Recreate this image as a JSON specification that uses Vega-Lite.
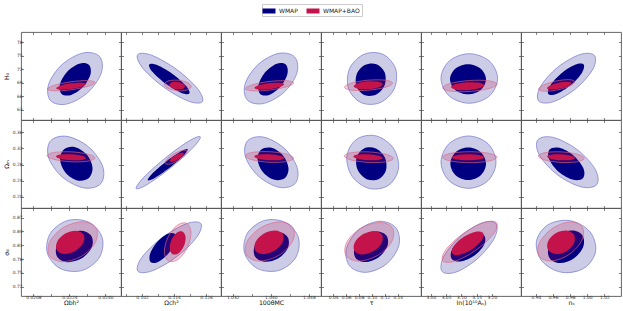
{
"$schema":"https://vega.github.io/schema/vega-lite/v6.json",
"padding":{"left":3,"top":3,"right":3,"bottom":1},
"background":"white",
"data":{"values":[
{"p":"11","k":"a","s":"WMAP","l":"95","x":[0.023736,0.023816,0.023212,0.022277,0.021559,0.021479,0.022083,0.023018],"y":[74.87,71.22,66.83,64.28,65.06,68.72,73.11,75.65],"i":[0,1,2,3,4,5,6,7]},
{"p":"11","k":"b","s":"WMAP","l":"68","x":[0.023262,0.023337,0.023014,0.022481,0.022051,0.021976,0.022299,0.022832],"y":[73.04,70.91,68.12,66.31,66.54,68.67,71.46,73.27],"i":[0,1,2,3,4,5,6,7]},
{"p":"11","k":"c","s":"WMAP+BAO","l":"95","x":[0.023534,0.023243,0.022504,0.02175,0.021423,0.021715,0.022454,0.023207],"y":[69.09,68.25,67.47,67.2,67.6,68.44,69.23,69.49],"i":[0,1,2,3,4,5,6,7]},
{"p":"11","k":"d","s":"WMAP+BAO","l":"68","x":[0.023129,0.022949,0.022488,0.022016,0.021811,0.021991,0.022452,0.022924],"y":[68.72,68.13,67.62,67.48,67.79,68.38,68.89,69.04],"i":[0,1,2,3,4,5,6,7]},
{"p":"12","k":"a","s":"WMAP","l":"95","x":[0.12461,0.11934,0.11005,0.10218,0.10034,0.10561,0.1149,0.12277],"y":[64.81,64.94,68.06,72.33,75.26,75.13,72.01,67.74],"i":[0,1,2,3,4,5,6,7]},
{"p":"12","k":"b","s":"WMAP","l":"68","x":[0.11974,0.1166,0.11089,0.10596,0.10469,0.10783,0.11354,0.11847],"y":[66.62,66.8,68.78,71.39,73.1,72.91,70.93,68.33],"i":[0,1,2,3,4,5,6,7]},
{"p":"12","k":"c","s":"WMAP+BAO","l":"95","x":[0.12041,0.1188,0.11519,0.11168,0.11032,0.11192,0.11554,0.11905],"y":[68.15,67.4,67.24,67.77,68.67,69.43,69.59,69.06],"i":[0,1,2,3,4,5,6,7]},
{"p":"12","k":"d","s":"WMAP+BAO","l":"68","x":[0.11807,0.11708,0.11498,0.11299,0.11228,0.11327,0.11537,0.11736],"y":[68.13,67.61,67.53,67.95,68.61,69.13,69.2,68.79],"i":[0,1,2,3,4,5,6,7]},
{"p":"13","k":"a","s":"WMAP","l":"95","x":[1.04503,1.04546,1.04271,1.0384,1.03505,1.03462,1.03737,1.04168],"y":[74.72,71.11,66.83,64.39,65.21,68.82,73.11,75.55],"i":[0,1,2,3,4,5,6,7]},
{"p":"13","k":"b","s":"WMAP","l":"68","x":[1.04309,1.04351,1.04215,1.03979,1.03783,1.03741,1.03877,1.04113],"y":[73.11,71.08,68.29,66.38,66.47,68.5,71.29,73.2],"i":[0,1,2,3,4,5,6,7]},
{"p":"13","k":"c","s":"WMAP+BAO","l":"95","x":[1.04479,1.04338,1.03983,1.03622,1.03466,1.03607,1.03962,1.04323],"y":[69.0,68.14,67.4,67.21,67.69,68.55,69.29,69.48],"i":[0,1,2,3,4,5,6,7]},
{"p":"13","k":"d","s":"WMAP+BAO","l":"68","x":[1.04281,1.04195,1.03976,1.03753,1.03656,1.03742,1.03961,1.04184],"y":[68.66,68.08,67.59,67.5,67.85,68.44,68.92,69.01],"i":[0,1,2,3,4,5,6,7]},
{"p":"14","k":"a","s":"WMAP","l":"95","x":[0.11741,0.13665,0.13446,0.11211,0.08269,0.06345,0.06564,0.08799],"y":[75.31,72.11,67.67,64.57,64.63,67.82,72.27,75.37],"i":[0,1,2,3,4,5,6,7]},
{"p":"14","k":"b","s":"WMAP","l":"68","x":[0.10678,0.11967,0.11989,0.1073,0.08929,0.0764,0.07618,0.08877],"y":[73.15,71.33,68.56,66.46,66.25,68.07,70.84,72.94],"i":[0,1,2,3,4,5,6,7]},
{"p":"14","k":"c","s":"WMAP+BAO","l":"95","x":[0.132,0.12153,0.09531,0.06869,0.05725,0.06772,0.09394,0.12056],"y":[68.95,68.03,67.37,67.37,68.01,68.93,69.59,69.59],"i":[0,1,2,3,4,5,6,7]},
{"p":"14","k":"d","s":"WMAP+BAO","l":"68","x":[0.11659,0.11033,0.09459,0.07861,0.07173,0.07799,0.09373,0.10971],"y":[68.68,67.99,67.57,67.67,68.23,68.93,69.34,69.24],"i":[0,1,2,3,4,5,6,7]},
{"p":"15","k":"a","s":"WMAP","l":"95","x":[3.2185,3.1914,3.1259,3.0605,3.0334,3.0605,3.1259,3.1914],"y":[69.97,66.07,64.46,66.07,69.97,73.86,75.48,73.86],"i":[0,1,2,3,4,5,6,7]},
{"p":"15","k":"b","s":"WMAP","l":"68","x":[3.1806,3.1633,3.1217,3.0801,3.0628,3.0801,3.1217,3.1633],"y":[69.79,67.43,66.46,67.43,69.79,72.15,73.12,72.15],"i":[0,1,2,3,4,5,6,7]},
{"p":"15","k":"c","s":"WMAP+BAO","l":"95","x":[3.2163,3.1912,3.1288,3.0657,3.0389,3.064,3.1263,3.1894],"y":[68.72,67.74,67.08,67.14,67.88,68.87,69.52,69.46],"i":[0,1,2,3,4,5,6,7]},
{"p":"15","k":"d","s":"WMAP+BAO","l":"68","x":[3.1753,3.1598,3.1214,3.0827,3.0662,3.0817,3.12,3.1588],"y":[68.45,67.77,67.37,67.49,68.06,68.75,69.14,69.02],"i":[0,1,2,3,4,5,6,7]},
{"p":"16","k":"a","s":"WMAP","l":"95","x":[1.00847,1.00617,0.98604,0.95988,0.943,0.9453,0.96543,0.99159],"y":[75.07,71.88,67.62,64.77,65.0,68.19,72.45,75.3],"i":[0,1,2,3,4,5,6,7]},
{"p":"16","k":"b","s":"WMAP","l":"68","x":[0.99577,0.99372,0.98079,0.96456,0.95453,0.95658,0.96951,0.98574],"y":[73.07,71.21,68.51,66.57,66.51,68.37,71.07,73.01],"i":[0,1,2,3,4,5,6,7]},
{"p":"16","k":"c","s":"WMAP+BAO","l":"95","x":[0.98543,0.98001,0.96537,0.95008,0.9431,0.94853,0.96317,0.97846],"y":[69.27,68.33,67.43,67.12,67.56,68.5,69.39,69.71],"i":[0,1,2,3,4,5,6,7]},
{"p":"16","k":"d","s":"WMAP+BAO","l":"68","x":[0.98162,0.97793,0.96804,0.9577,0.953,0.95669,0.96659,0.97692],"y":[68.95,68.32,67.72,67.5,67.79,68.42,69.02,69.24],"i":[0,1,2,3,4,5,6,7]},
{"p":"21","k":"a","s":"WMAP","l":"95","x":[0.023801,0.023069,0.022108,0.021482,0.021556,0.022289,0.02325,0.023876],"y":[0.2334,0.222,0.2479,0.296,0.3382,0.3496,0.3236,0.2755],"i":[0,1,2,3,4,5,6,7]},
{"p":"21","k":"b","s":"WMAP","l":"68","x":[0.023247,0.022752,0.022229,0.021986,0.022163,0.022659,0.023181,0.023425],"y":[0.2459,0.2407,0.2596,0.2915,0.3178,0.3229,0.304,0.2721],"i":[0,1,2,3,4,5,6,7]},
{"p":"21","k":"c","s":"WMAP+BAO","l":"95","x":[0.023534,0.023214,0.022458,0.021709,0.021406,0.021726,0.022482,0.023231],"y":[0.296,0.2882,0.2868,0.2926,0.3022,0.31,0.3114,0.3056],"i":[0,1,2,3,4,5,6,7]},
{"p":"21","k":"d","s":"WMAP+BAO","l":"68","x":[0.023135,0.022935,0.022463,0.021995,0.021805,0.022005,0.022477,0.022945],"y":[0.2959,0.2913,0.2905,0.294,0.2998,0.3045,0.3053,0.3018],"i":[0,1,2,3,4,5,6,7]},
{"p":"22","k":"a","s":"WMAP","l":"95","x":[0.12381,0.12121,0.1131,0.10423,0.09979,0.1024,0.1105,0.11937],"y":[0.3486,0.3224,0.274,0.2318,0.2205,0.2467,0.2951,0.3373],"i":[0,1,2,3,4,5,6,7]},
{"p":"22","k":"b","s":"WMAP","l":"68","x":[0.11909,0.11747,0.11242,0.1069,0.10414,0.10576,0.11081,0.11633],"y":[0.3178,0.3017,0.2725,0.2473,0.2409,0.257,0.2862,0.3114],"i":[0,1,2,3,4,5,6,7]},
{"p":"22","k":"c","s":"WMAP+BAO","l":"95","x":[0.11879,0.11813,0.11548,0.11239,0.11066,0.11132,0.11398,0.11707],"y":[0.3136,0.303,0.2896,0.2812,0.2827,0.2933,0.3067,0.3151],"i":[0,1,2,3,4,5,6,7]},
{"p":"22","k":"d","s":"WMAP+BAO","l":"68","x":[0.11762,0.11719,0.11549,0.11352,0.11243,0.11286,0.11456,0.11653],"y":[0.3078,0.3011,0.2925,0.2871,0.288,0.2947,0.3032,0.3086],"i":[0,1,2,3,4,5,6,7]},
{"p":"23","k":"a","s":"WMAP","l":"95","x":[1.0451,1.04175,1.03743,1.03469,1.03511,1.03846,1.04277,1.04552],"y":[0.2329,0.2237,0.2509,0.2985,0.3386,0.3478,0.3206,0.273],"i":[0,1,2,3,4,5,6,7]},
{"p":"23","k":"b","s":"WMAP","l":"68","x":[1.04296,1.04075,1.03837,1.03722,1.03796,1.04017,1.04255,1.04371],"y":[0.2468,0.2425,0.2612,0.292,0.3168,0.3212,0.3025,0.2717],"i":[0,1,2,3,4,5,6,7]},
{"p":"23","k":"c","s":"WMAP+BAO","l":"95","x":[1.0448,1.04327,1.03967,1.03609,1.03465,1.03618,1.03978,1.04336],"y":[0.2955,0.2872,0.2855,0.2916,0.3018,0.3101,0.3117,0.3056],"i":[0,1,2,3,4,5,6,7]},
{"p":"23","k":"d","s":"WMAP+BAO","l":"68","x":[1.04283,1.04188,1.03965,1.03744,1.03654,1.03748,1.03972,1.04193],"y":[0.2959,0.2913,0.2905,0.294,0.2998,0.3045,0.3053,0.3018],"i":[0,1,2,3,4,5,6,7]},
{"p":"24","k":"a","s":"WMAP","l":"95","x":[0.12603,0.0963,0.06939,0.0611,0.07624,0.10597,0.13288,0.14117],"y":[0.2291,0.2207,0.2503,0.3008,0.3424,0.3509,0.3212,0.2708],"i":[0,1,2,3,4,5,6,7]},
{"p":"24","k":"b","s":"WMAP","l":"68","x":[0.11009,0.09194,0.0779,0.07621,0.08784,0.10599,0.12003,0.12172],"y":[0.2438,0.2438,0.2662,0.2977,0.3199,0.3198,0.2975,0.266],"i":[0,1,2,3,4,5,6,7]},
{"p":"24","k":"c","s":"WMAP+BAO","l":"95","x":[0.13302,0.1216,0.09466,0.06797,0.05716,0.06859,0.09552,0.12222],"y":[0.295,0.2866,0.2851,0.2911,0.3013,0.3096,0.3112,0.3051],"i":[0,1,2,3,4,5,6,7]},
{"p":"24","k":"d","s":"WMAP+BAO","l":"68","x":[0.1166,0.10977,0.0936,0.07759,0.0711,0.07793,0.0941,0.11011],"y":[0.296,0.2913,0.2905,0.294,0.2998,0.3045,0.3053,0.3018],"i":[0,1,2,3,4,5,6,7]},
{"p":"25","k":"a","s":"WMAP","l":"95","x":[3.2133,3.1869,3.1233,3.0598,3.0334,3.0598,3.1233,3.1869],"y":[0.2858,0.24,0.2211,0.24,0.2858,0.3315,0.3505,0.3315],"i":[0,1,2,3,4,5,6,7]},
{"p":"25","k":"b","s":"WMAP","l":"68","x":[3.1806,3.1635,3.1223,3.0812,3.0641,3.0812,3.1223,3.1635],"y":[0.2818,0.2535,0.2418,0.2535,0.2818,0.3101,0.3218,0.3101],"i":[0,1,2,3,4,5,6,7]},
{"p":"25","k":"c","s":"WMAP+BAO","l":"95","x":[3.2165,3.1905,3.1276,3.0647,3.0386,3.0647,3.1276,3.1905],"y":[0.2981,0.2885,0.2845,0.2885,0.2981,0.3077,0.3117,0.3077],"i":[0,1,2,3,4,5,6,7]},
{"p":"25","k":"d","s":"WMAP+BAO","l":"68","x":[3.175,3.1594,3.1217,3.084,3.0684,3.084,3.1217,3.1594],"y":[0.2979,0.2926,0.2905,0.2926,0.2979,0.3031,0.3053,0.3031],"i":[0,1,2,3,4,5,6,7]},
{"p":"26","k":"a","s":"WMAP","l":"95","x":[1.01124,0.99314,0.9654,0.94426,0.9421,0.9602,0.98794,1.00908],"y":[0.2308,0.2246,0.2542,0.3023,0.3408,0.347,0.3173,0.2692],"i":[0,1,2,3,4,5,6,7]},
{"p":"26","k":"b","s":"WMAP","l":"68","x":[0.99522,0.98359,0.96723,0.95572,0.95579,0.96742,0.98377,0.99529],"y":[0.2469,0.2424,0.261,0.2918,0.3167,0.3212,0.3026,0.2718],"i":[0,1,2,3,4,5,6,7]},
{"p":"26","k":"c","s":"WMAP+BAO","l":"95","x":[0.99653,0.98842,0.96932,0.95042,0.94278,0.95088,0.96998,0.98889],"y":[0.2952,0.2868,0.2851,0.291,0.3011,0.3095,0.3112,0.3053],"i":[0,1,2,3,4,5,6,7]},
{"p":"26","k":"d","s":"WMAP+BAO","l":"68","x":[0.98566,0.98073,0.96911,0.9576,0.95294,0.95787,0.96949,0.981],"y":[0.2961,0.2914,0.2905,0.2939,0.2997,0.3044,0.3053,0.3018],"i":[0,1,2,3,4,5,6,7]},
{"p":"31","k":"a","s":"WMAP","l":"95","x":[0.023861,0.023714,0.022938,0.021986,0.021416,0.021563,0.02234,0.023292],"y":[0.8256,0.7824,0.7551,0.7598,0.7936,0.8368,0.8641,0.8595],"i":[0,1,2,3,4,5,6,7]},
{"p":"31","k":"b","s":"WMAP","l":"68","x":[0.023386,0.02338,0.022927,0.022292,0.021848,0.021853,0.022306,0.022941],"y":[0.8292,0.8042,0.7812,0.7735,0.7858,0.8107,0.8338,0.8414],"i":[0,1,2,3,4,5,6,7]},
{"p":"31","k":"c","s":"WMAP+BAO","l":"95","x":[0.023584,0.023546,0.022923,0.022078,0.021507,0.021545,0.022168,0.023013],"y":[0.847,0.8158,0.7857,0.7744,0.7884,0.8195,0.8496,0.861],"i":[0,1,2,3,4,5,6,7]},
{"p":"31","k":"d","s":"WMAP+BAO","l":"68","x":[0.02303,0.023013,0.022656,0.02217,0.021839,0.021856,0.022212,0.022699],"y":[0.8334,0.8152,0.7978,0.7914,0.7998,0.818,0.8354,0.8417],"i":[0,1,2,3,4,5,6,7]},
{"p":"32","k":"a","s":"WMAP","l":"95","x":[0.12404,0.12249,0.11492,0.10577,0.10039,0.10194,0.10951,0.11866],"y":[0.8573,0.8275,0.7849,0.7546,0.7541,0.784,0.8265,0.8569],"i":[0,1,2,3,4,5,6,7]},
{"p":"32","k":"b","s":"WMAP","l":"68","x":[0.1142,0.11452,0.11204,0.10821,0.10528,0.10496,0.10744,0.11126],"y":[0.835,0.818,0.7931,0.7746,0.7735,0.7904,0.8154,0.8338],"i":[0,1,2,3,4,5,6,7]},
{"p":"32","k":"c","s":"WMAP+BAO","l":"95","x":[0.11869,0.12036,0.1191,0.11566,0.11204,0.11037,0.11162,0.11507],"y":[0.8579,0.8386,0.8065,0.7802,0.7753,0.7945,0.8267,0.8529],"i":[0,1,2,3,4,5,6,7]},
{"p":"32","k":"d","s":"WMAP+BAO","l":"68","x":[0.11709,0.11831,0.1178,0.11586,0.11363,0.11242,0.11293,0.11486],"y":[0.8398,0.8285,0.8094,0.7936,0.7903,0.8016,0.8207,0.8366],"i":[0,1,2,3,4,5,6,7]},
{"p":"33","k":"a","s":"WMAP","l":"95","x":[1.04583,1.04516,1.04156,1.03713,1.03447,1.03513,1.03873,1.04316],"y":[0.8254,0.7822,0.7551,0.76,0.7939,0.837,0.8641,0.8593],"i":[0,1,2,3,4,5,6,7]},
{"p":"33","k":"b","s":"WMAP","l":"68","x":[1.04356,1.04355,1.04152,1.03866,1.03665,1.03666,1.03869,1.04154],"y":[0.8274,0.8034,0.7814,0.7743,0.7862,0.8102,0.8322,0.8393],"i":[0,1,2,3,4,5,6,7]},
{"p":"33","k":"c","s":"WMAP+BAO","l":"95","x":[1.0447,1.04448,1.04152,1.03754,1.03488,1.03509,1.03806,1.04204],"y":[0.8476,0.8171,0.7873,0.7757,0.789,0.8195,0.8493,0.861],"i":[0,1,2,3,4,5,6,7]},
{"p":"33","k":"d","s":"WMAP+BAO","l":"68","x":[1.04253,1.04242,1.04067,1.03831,1.03671,1.03682,1.03857,1.04094],"y":[0.8339,0.8156,0.7978,0.791,0.7992,0.8176,0.8354,0.8421],"i":[0,1,2,3,4,5,6,7]},
{"p":"34","k":"a","s":"WMAP","l":"95","x":[0.13675,0.14181,0.12305,0.09145,0.06552,0.06046,0.07922,0.11082],"y":[0.8486,0.8105,0.7702,0.7514,0.765,0.8031,0.8434,0.8622],"i":[0,1,2,3,4,5,6,7]},
{"p":"34","k":"b","s":"WMAP","l":"68","x":[0.12262,0.12372,0.11006,0.08962,0.07438,0.07328,0.08694,0.10738],"y":[0.8305,0.8072,0.7837,0.7737,0.7832,0.8064,0.8299,0.8399],"i":[0,1,2,3,4,5,6,7]},
{"p":"34","k":"c","s":"WMAP+BAO","l":"95","x":[0.1321,0.13026,0.10827,0.07902,0.05963,0.06147,0.08347,0.11271],"y":[0.847,0.8171,0.7876,0.7757,0.7884,0.8182,0.8477,0.8596],"i":[0,1,2,3,4,5,6,7]},
{"p":"34","k":"d","s":"WMAP+BAO","l":"68","x":[0.11564,0.11482,0.10191,0.08446,0.07268,0.0735,0.08641,0.10386],"y":[0.8331,0.8147,0.7969,0.7901,0.7983,0.8167,0.8345,0.8413],"i":[0,1,2,3,4,5,6,7]},
{"p":"35","k":"a","s":"WMAP","l":"95","x":[3.2124,3.2085,3.1556,3.0848,3.0375,3.0414,3.0943,3.1652],"y":[0.8576,0.8263,0.7827,0.7524,0.753,0.7843,0.8279,0.8582],"i":[0,1,2,3,4,5,6,7]},
{"p":"35","k":"b","s":"WMAP","l":"68","x":[3.1753,3.1735,3.1414,3.0978,3.0681,3.0699,3.102,3.1456],"y":[0.8306,0.8101,0.7871,0.7749,0.7808,0.8013,0.8244,0.8365],"i":[0,1,2,3,4,5,6,7]},
{"p":"35","k":"c","s":"WMAP+BAO","l":"95","x":[3.2156,3.2037,3.1469,3.0787,3.0389,3.0508,3.1076,3.1758],"y":[0.8587,0.8335,0.799,0.7754,0.7766,0.8018,0.8363,0.8599],"i":[0,1,2,3,4,5,6,7]},
{"p":"35","k":"d","s":"WMAP+BAO","l":"68","x":[3.1715,3.166,3.1341,3.0943,3.07,3.0754,3.1074,3.1472],"y":[0.8363,0.8202,0.8008,0.7893,0.7925,0.8086,0.8281,0.8395],"i":[0,1,2,3,4,5,6,7]},
{"p":"36","k":"a","s":"WMAP","l":"95","x":[1.00971,0.99582,0.96983,0.94695,0.94059,0.95448,0.98047,1.00335],"y":[0.7962,0.7599,0.7515,0.7759,0.8188,0.855,0.8634,0.839],"i":[0,1,2,3,4,5,6,7]},
{"p":"36","k":"b","s":"WMAP","l":"68","x":[0.99431,0.99534,0.98455,0.96825,0.95599,0.95496,0.96575,0.98205],"y":[0.8317,0.8068,0.7819,0.7716,0.7819,0.8068,0.8317,0.842],"i":[0,1,2,3,4,5,6,7]},
{"p":"36","k":"c","s":"WMAP+BAO","l":"95","x":[0.99387,0.99392,0.97935,0.95869,0.94403,0.94398,0.95855,0.97921],"y":[0.8507,0.8217,0.7908,0.776,0.786,0.8149,0.8459,0.8607],"i":[0,1,2,3,4,5,6,7]},
{"p":"36","k":"d","s":"WMAP+BAO","l":"68","x":[0.9845,0.98439,0.97544,0.9629,0.9541,0.95421,0.96316,0.9757],"y":[0.8328,0.8141,0.7968,0.7911,0.8003,0.819,0.8363,0.842],"i":[0,1,2,3,4,5,6,7]}
]},
"transform":[{"flatten":["x","y","i"]}],
"columns":6,
"spacing":0,
"bounds":"flush",
"concat":[
{"width":100,"height":88,"transform":[{"filter":"datum.p=='11'"}],"resolve":{"axis":{"x":"independent","y":"independent"}},"layer":[
 {"mark":{"type":"line","interpolate":"cardinal-closed","strokeWidth":0.7},"encoding":{
  "x":{"field":"x","type":"quantitative","scale":{"domain":[0.02025,0.02469],"nice":false,"zero":false},"axis":{"values":[0.0208,0.0216,0.0224,0.0232,0.024],"labels":false,"title":null}},
  "y":{"field":"y","type":"quantitative","scale":{"domain":[60.74,80.3],"nice":false,"zero":false},"axis":{"values":[63,66,69,72,75,78],"format":"d","title":"H₀","minExtent":10,"maxExtent":10}},
  "order":{"field":"i","type":"quantitative"},"detail":{"field":"k","type":"nominal"},
  "fill":{"field":"s","type":"nominal","scale":{"domain":["WMAP","WMAP+BAO"],"range":["#000080","#c4134b"]},"legend":{"orient":"none","legendX":241,"legendY":-28,"direction":"horizontal","title":null,"symbolType":"M-1.3,-0.5H1.3V0.5H-1.3Z","symbolSize":100,"labelFontSize":6,"labelFont":"DejaVu Sans","labelColor":"#222","strokeColor":"#cccccc","padding":2,"columnPadding":8,"labelOffset":5,"encode":{"symbols":{"update":{"fill":{"signal":"datum.value=='WMAP'?'#000080':'#dc143c'"},"fillOpacity":{"value":1},"opacity":{"value":1},"strokeWidth":{"value":0}}}}}},
  "fillOpacity":{"field":"l","type":"ordinal","scale":{"domain":["95","68"],"range":[0.2,1]},"legend":null},
  "stroke":{"field":"s","type":"nominal","scale":{"domain":["WMAP","WMAP+BAO"],"range":["#6767c9","#e06586"]},"legend":null},
  "strokeOpacity":{"field":"l","type":"ordinal","scale":{"domain":["95","68"],"range":[0.9,0]},"legend":null}}},
 {"mark":{"type":"line","opacity":0},"encoding":{
  "x":{"field":"x","type":"quantitative","axis":{"orient":"top","values":[0.0208,0.0216,0.0224,0.0232,0.024],"labels":false,"title":null}},
  "y":{"field":"y","type":"quantitative","axis":{"orient":"right","values":[63,66,69,72,75,78],"labels":false,"title":null}}}}]},
{"width":100,"height":88,"transform":[{"filter":"datum.p=='12'"}],"resolve":{"axis":{"x":"independent","y":"independent"}},"layer":[
 {"mark":{"type":"line","interpolate":"cardinal-closed","strokeWidth":0.7},"encoding":{
  "x":{"field":"x","type":"quantitative","scale":{"domain":[0.0941,0.1316],"nice":false,"zero":false},"axis":{"values":[0.096,0.102,0.108,0.114,0.12,0.126],"labels":false,"title":null}},
  "y":{"field":"y","type":"quantitative","scale":{"domain":[60.74,80.3],"nice":false,"zero":false},"axis":{"values":[63,66,69,72,75,78],"labels":false,"title":null}},
  "order":{"field":"i","type":"quantitative"},"detail":{"field":"k","type":"nominal"},
  "fill":{"field":"s","type":"nominal","scale":{"domain":["WMAP","WMAP+BAO"],"range":["#000080","#c4134b"]},"legend":{"orient":"none","legendX":241,"legendY":-28,"direction":"horizontal","title":null,"symbolType":"M-1.3,-0.5H1.3V0.5H-1.3Z","symbolSize":100,"labelFontSize":6,"labelFont":"DejaVu Sans","labelColor":"#222","strokeColor":"#cccccc","padding":2,"columnPadding":8,"labelOffset":5,"encode":{"symbols":{"update":{"fill":{"signal":"datum.value=='WMAP'?'#000080':'#dc143c'"},"fillOpacity":{"value":1},"opacity":{"value":1},"strokeWidth":{"value":0}}}}}},
  "fillOpacity":{"field":"l","type":"ordinal","scale":{"domain":["95","68"],"range":[0.2,1]},"legend":null},
  "stroke":{"field":"s","type":"nominal","scale":{"domain":["WMAP","WMAP+BAO"],"range":["#6767c9","#e06586"]},"legend":null},
  "strokeOpacity":{"field":"l","type":"ordinal","scale":{"domain":["95","68"],"range":[0.9,0]},"legend":null}}},
 {"mark":{"type":"line","opacity":0},"encoding":{
  "x":{"field":"x","type":"quantitative","axis":{"orient":"top","values":[0.096,0.102,0.108,0.114,0.12,0.126],"labels":false,"title":null}},
  "y":{"field":"y","type":"quantitative","axis":{"orient":"right","values":[63,66,69,72,75,78],"labels":false,"title":null}}}}]},
{"width":100,"height":88,"transform":[{"filter":"datum.p=='13'"}],"resolve":{"axis":{"x":"independent","y":"independent"}},"layer":[
 {"mark":{"type":"line","interpolate":"cardinal-closed","strokeWidth":0.7},"encoding":{
  "x":{"field":"x","type":"quantitative","scale":{"domain":[1.02954,1.05054],"nice":false,"zero":false},"axis":{"values":[1.032,1.036,1.04,1.044,1.048],"labels":false,"title":null}},
  "y":{"field":"y","type":"quantitative","scale":{"domain":[60.74,80.3],"nice":false,"zero":false},"axis":{"values":[63,66,69,72,75,78],"labels":false,"title":null}},
  "order":{"field":"i","type":"quantitative"},"detail":{"field":"k","type":"nominal"},
  "fill":{"field":"s","type":"nominal","scale":{"domain":["WMAP","WMAP+BAO"],"range":["#000080","#c4134b"]},"legend":{"orient":"none","legendX":241,"legendY":-28,"direction":"horizontal","title":null,"symbolType":"M-1.3,-0.5H1.3V0.5H-1.3Z","symbolSize":100,"labelFontSize":6,"labelFont":"DejaVu Sans","labelColor":"#222","strokeColor":"#cccccc","padding":2,"columnPadding":8,"labelOffset":5,"encode":{"symbols":{"update":{"fill":{"signal":"datum.value=='WMAP'?'#000080':'#dc143c'"},"fillOpacity":{"value":1},"opacity":{"value":1},"strokeWidth":{"value":0}}}}}},
  "fillOpacity":{"field":"l","type":"ordinal","scale":{"domain":["95","68"],"range":[0.2,1]},"legend":null},
  "stroke":{"field":"s","type":"nominal","scale":{"domain":["WMAP","WMAP+BAO"],"range":["#6767c9","#e06586"]},"legend":null},
  "strokeOpacity":{"field":"l","type":"ordinal","scale":{"domain":["95","68"],"range":[0.9,0]},"legend":null}}},
 {"mark":{"type":"line","opacity":0},"encoding":{
  "x":{"field":"x","type":"quantitative","axis":{"orient":"top","values":[1.032,1.036,1.04,1.044,1.048],"labels":false,"title":null}},
  "y":{"field":"y","type":"quantitative","axis":{"orient":"right","values":[63,66,69,72,75,78],"labels":false,"title":null}}}}]},
{"width":100,"height":88,"transform":[{"filter":"datum.p=='14'"}],"resolve":{"axis":{"x":"independent","y":"independent"}},"layer":[
 {"mark":{"type":"line","interpolate":"cardinal-closed","strokeWidth":0.7},"encoding":{
  "x":{"field":"x","type":"quantitative","scale":{"domain":[0.021,0.176],"nice":false,"zero":false},"axis":{"values":[0.04,0.06,0.08,0.1,0.12,0.14],"labels":false,"title":null}},
  "y":{"field":"y","type":"quantitative","scale":{"domain":[60.74,80.3],"nice":false,"zero":false},"axis":{"values":[63,66,69,72,75,78],"labels":false,"title":null}},
  "order":{"field":"i","type":"quantitative"},"detail":{"field":"k","type":"nominal"},
  "fill":{"field":"s","type":"nominal","scale":{"domain":["WMAP","WMAP+BAO"],"range":["#000080","#c4134b"]},"legend":{"orient":"none","legendX":241,"legendY":-28,"direction":"horizontal","title":null,"symbolType":"M-1.3,-0.5H1.3V0.5H-1.3Z","symbolSize":100,"labelFontSize":6,"labelFont":"DejaVu Sans","labelColor":"#222","strokeColor":"#cccccc","padding":2,"columnPadding":8,"labelOffset":5,"encode":{"symbols":{"update":{"fill":{"signal":"datum.value=='WMAP'?'#000080':'#dc143c'"},"fillOpacity":{"value":1},"opacity":{"value":1},"strokeWidth":{"value":0}}}}}},
  "fillOpacity":{"field":"l","type":"ordinal","scale":{"domain":["95","68"],"range":[0.2,1]},"legend":null},
  "stroke":{"field":"s","type":"nominal","scale":{"domain":["WMAP","WMAP+BAO"],"range":["#6767c9","#e06586"]},"legend":null},
  "strokeOpacity":{"field":"l","type":"ordinal","scale":{"domain":["95","68"],"range":[0.9,0]},"legend":null}}},
 {"mark":{"type":"line","opacity":0},"encoding":{
  "x":{"field":"x","type":"quantitative","axis":{"orient":"top","values":[0.04,0.06,0.08,0.1,0.12,0.14],"labels":false,"title":null}},
  "y":{"field":"y","type":"quantitative","axis":{"orient":"right","values":[63,66,69,72,75,78],"labels":false,"title":null}}}}]},
{"width":100,"height":88,"transform":[{"filter":"datum.p=='15'"}],"resolve":{"axis":{"x":"independent","y":"independent"}},"layer":[
 {"mark":{"type":"line","interpolate":"cardinal-closed","strokeWidth":0.7},"encoding":{
  "x":{"field":"x","type":"quantitative","scale":{"domain":[2.968,3.295],"nice":false,"zero":false},"axis":{"values":[3,3.05,3.1,3.15,3.2],"labels":false,"title":null}},
  "y":{"field":"y","type":"quantitative","scale":{"domain":[60.74,80.3],"nice":false,"zero":false},"axis":{"values":[63,66,69,72,75,78],"labels":false,"title":null}},
  "order":{"field":"i","type":"quantitative"},"detail":{"field":"k","type":"nominal"},
  "fill":{"field":"s","type":"nominal","scale":{"domain":["WMAP","WMAP+BAO"],"range":["#000080","#c4134b"]},"legend":{"orient":"none","legendX":241,"legendY":-28,"direction":"horizontal","title":null,"symbolType":"M-1.3,-0.5H1.3V0.5H-1.3Z","symbolSize":100,"labelFontSize":6,"labelFont":"DejaVu Sans","labelColor":"#222","strokeColor":"#cccccc","padding":2,"columnPadding":8,"labelOffset":5,"encode":{"symbols":{"update":{"fill":{"signal":"datum.value=='WMAP'?'#000080':'#dc143c'"},"fillOpacity":{"value":1},"opacity":{"value":1},"strokeWidth":{"value":0}}}}}},
  "fillOpacity":{"field":"l","type":"ordinal","scale":{"domain":["95","68"],"range":[0.2,1]},"legend":null},
  "stroke":{"field":"s","type":"nominal","scale":{"domain":["WMAP","WMAP+BAO"],"range":["#6767c9","#e06586"]},"legend":null},
  "strokeOpacity":{"field":"l","type":"ordinal","scale":{"domain":["95","68"],"range":[0.9,0]},"legend":null}}},
 {"mark":{"type":"line","opacity":0},"encoding":{
  "x":{"field":"x","type":"quantitative","axis":{"orient":"top","values":[3,3.05,3.1,3.15,3.2],"labels":false,"title":null}},
  "y":{"field":"y","type":"quantitative","axis":{"orient":"right","values":[63,66,69,72,75,78],"labels":false,"title":null}}}}]},
{"width":100,"height":88,"transform":[{"filter":"datum.p=='16'"}],"resolve":{"axis":{"x":"independent","y":"independent"}},"layer":[
 {"mark":{"type":"line","interpolate":"cardinal-closed","strokeWidth":0.7},"encoding":{
  "x":{"field":"x","type":"quantitative","scale":{"domain":[0.9225,1.0395],"nice":false,"zero":false},"axis":{"values":[0.94,0.96,0.98,1,1.02],"labels":false,"title":null}},
  "y":{"field":"y","type":"quantitative","scale":{"domain":[60.74,80.3],"nice":false,"zero":false},"axis":{"values":[63,66,69,72,75,78],"labels":false,"title":null}},
  "order":{"field":"i","type":"quantitative"},"detail":{"field":"k","type":"nominal"},
  "fill":{"field":"s","type":"nominal","scale":{"domain":["WMAP","WMAP+BAO"],"range":["#000080","#c4134b"]},"legend":{"orient":"none","legendX":241,"legendY":-28,"direction":"horizontal","title":null,"symbolType":"M-1.3,-0.5H1.3V0.5H-1.3Z","symbolSize":100,"labelFontSize":6,"labelFont":"DejaVu Sans","labelColor":"#222","strokeColor":"#cccccc","padding":2,"columnPadding":8,"labelOffset":5,"encode":{"symbols":{"update":{"fill":{"signal":"datum.value=='WMAP'?'#000080':'#dc143c'"},"fillOpacity":{"value":1},"opacity":{"value":1},"strokeWidth":{"value":0}}}}}},
  "fillOpacity":{"field":"l","type":"ordinal","scale":{"domain":["95","68"],"range":[0.2,1]},"legend":null},
  "stroke":{"field":"s","type":"nominal","scale":{"domain":["WMAP","WMAP+BAO"],"range":["#6767c9","#e06586"]},"legend":null},
  "strokeOpacity":{"field":"l","type":"ordinal","scale":{"domain":["95","68"],"range":[0.9,0]},"legend":null}}},
 {"mark":{"type":"line","opacity":0},"encoding":{
  "x":{"field":"x","type":"quantitative","axis":{"orient":"top","values":[0.94,0.96,0.98,1,1.02],"labels":false,"title":null}},
  "y":{"field":"y","type":"quantitative","axis":{"orient":"right","values":[63,66,69,72,75,78],"labels":false,"title":null}}}}]},
{"width":100,"height":88,"transform":[{"filter":"datum.p=='21'"}],"resolve":{"axis":{"x":"independent","y":"independent"}},"layer":[
 {"mark":{"type":"line","interpolate":"cardinal-closed","strokeWidth":0.7},"encoding":{
  "x":{"field":"x","type":"quantitative","scale":{"domain":[0.02025,0.02469],"nice":false,"zero":false},"axis":{"values":[0.0208,0.0216,0.0224,0.0232,0.024],"labels":false,"title":null}},
  "y":{"field":"y","type":"quantitative","scale":{"domain":[0.1726,0.39],"nice":false,"zero":false},"axis":{"values":[0.2,0.24,0.28,0.32,0.36],"format":".2f","title":"Ωₘ","minExtent":10,"maxExtent":10}},
  "order":{"field":"i","type":"quantitative"},"detail":{"field":"k","type":"nominal"},
  "fill":{"field":"s","type":"nominal","scale":{"domain":["WMAP","WMAP+BAO"],"range":["#000080","#c4134b"]},"legend":{"orient":"none","legendX":241,"legendY":-28,"direction":"horizontal","title":null,"symbolType":"M-1.3,-0.5H1.3V0.5H-1.3Z","symbolSize":100,"labelFontSize":6,"labelFont":"DejaVu Sans","labelColor":"#222","strokeColor":"#cccccc","padding":2,"columnPadding":8,"labelOffset":5,"encode":{"symbols":{"update":{"fill":{"signal":"datum.value=='WMAP'?'#000080':'#dc143c'"},"fillOpacity":{"value":1},"opacity":{"value":1},"strokeWidth":{"value":0}}}}}},
  "fillOpacity":{"field":"l","type":"ordinal","scale":{"domain":["95","68"],"range":[0.2,1]},"legend":null},
  "stroke":{"field":"s","type":"nominal","scale":{"domain":["WMAP","WMAP+BAO"],"range":["#6767c9","#e06586"]},"legend":null},
  "strokeOpacity":{"field":"l","type":"ordinal","scale":{"domain":["95","68"],"range":[0.9,0]},"legend":null}}},
 {"mark":{"type":"line","opacity":0},"encoding":{
  "x":{"field":"x","type":"quantitative","axis":{"orient":"top","values":[0.0208,0.0216,0.0224,0.0232,0.024],"labels":false,"title":null}},
  "y":{"field":"y","type":"quantitative","axis":{"orient":"right","values":[0.2,0.24,0.28,0.32,0.36],"labels":false,"title":null}}}}]},
{"width":100,"height":88,"transform":[{"filter":"datum.p=='22'"}],"resolve":{"axis":{"x":"independent","y":"independent"}},"layer":[
 {"mark":{"type":"line","interpolate":"cardinal-closed","strokeWidth":0.7},"encoding":{
  "x":{"field":"x","type":"quantitative","scale":{"domain":[0.0941,0.1316],"nice":false,"zero":false},"axis":{"values":[0.096,0.102,0.108,0.114,0.12,0.126],"labels":false,"title":null}},
  "y":{"field":"y","type":"quantitative","scale":{"domain":[0.1726,0.39],"nice":false,"zero":false},"axis":{"values":[0.2,0.24,0.28,0.32,0.36],"labels":false,"title":null}},
  "order":{"field":"i","type":"quantitative"},"detail":{"field":"k","type":"nominal"},
  "fill":{"field":"s","type":"nominal","scale":{"domain":["WMAP","WMAP+BAO"],"range":["#000080","#c4134b"]},"legend":{"orient":"none","legendX":241,"legendY":-28,"direction":"horizontal","title":null,"symbolType":"M-1.3,-0.5H1.3V0.5H-1.3Z","symbolSize":100,"labelFontSize":6,"labelFont":"DejaVu Sans","labelColor":"#222","strokeColor":"#cccccc","padding":2,"columnPadding":8,"labelOffset":5,"encode":{"symbols":{"update":{"fill":{"signal":"datum.value=='WMAP'?'#000080':'#dc143c'"},"fillOpacity":{"value":1},"opacity":{"value":1},"strokeWidth":{"value":0}}}}}},
  "fillOpacity":{"field":"l","type":"ordinal","scale":{"domain":["95","68"],"range":[0.2,1]},"legend":null},
  "stroke":{"field":"s","type":"nominal","scale":{"domain":["WMAP","WMAP+BAO"],"range":["#6767c9","#e06586"]},"legend":null},
  "strokeOpacity":{"field":"l","type":"ordinal","scale":{"domain":["95","68"],"range":[0.9,0]},"legend":null}}},
 {"mark":{"type":"line","opacity":0},"encoding":{
  "x":{"field":"x","type":"quantitative","axis":{"orient":"top","values":[0.096,0.102,0.108,0.114,0.12,0.126],"labels":false,"title":null}},
  "y":{"field":"y","type":"quantitative","axis":{"orient":"right","values":[0.2,0.24,0.28,0.32,0.36],"labels":false,"title":null}}}}]},
{"width":100,"height":88,"transform":[{"filter":"datum.p=='23'"}],"resolve":{"axis":{"x":"independent","y":"independent"}},"layer":[
 {"mark":{"type":"line","interpolate":"cardinal-closed","strokeWidth":0.7},"encoding":{
  "x":{"field":"x","type":"quantitative","scale":{"domain":[1.02954,1.05054],"nice":false,"zero":false},"axis":{"values":[1.032,1.036,1.04,1.044,1.048],"labels":false,"title":null}},
  "y":{"field":"y","type":"quantitative","scale":{"domain":[0.1726,0.39],"nice":false,"zero":false},"axis":{"values":[0.2,0.24,0.28,0.32,0.36],"labels":false,"title":null}},
  "order":{"field":"i","type":"quantitative"},"detail":{"field":"k","type":"nominal"},
  "fill":{"field":"s","type":"nominal","scale":{"domain":["WMAP","WMAP+BAO"],"range":["#000080","#c4134b"]},"legend":{"orient":"none","legendX":241,"legendY":-28,"direction":"horizontal","title":null,"symbolType":"M-1.3,-0.5H1.3V0.5H-1.3Z","symbolSize":100,"labelFontSize":6,"labelFont":"DejaVu Sans","labelColor":"#222","strokeColor":"#cccccc","padding":2,"columnPadding":8,"labelOffset":5,"encode":{"symbols":{"update":{"fill":{"signal":"datum.value=='WMAP'?'#000080':'#dc143c'"},"fillOpacity":{"value":1},"opacity":{"value":1},"strokeWidth":{"value":0}}}}}},
  "fillOpacity":{"field":"l","type":"ordinal","scale":{"domain":["95","68"],"range":[0.2,1]},"legend":null},
  "stroke":{"field":"s","type":"nominal","scale":{"domain":["WMAP","WMAP+BAO"],"range":["#6767c9","#e06586"]},"legend":null},
  "strokeOpacity":{"field":"l","type":"ordinal","scale":{"domain":["95","68"],"range":[0.9,0]},"legend":null}}},
 {"mark":{"type":"line","opacity":0},"encoding":{
  "x":{"field":"x","type":"quantitative","axis":{"orient":"top","values":[1.032,1.036,1.04,1.044,1.048],"labels":false,"title":null}},
  "y":{"field":"y","type":"quantitative","axis":{"orient":"right","values":[0.2,0.24,0.28,0.32,0.36],"labels":false,"title":null}}}}]},
{"width":100,"height":88,"transform":[{"filter":"datum.p=='24'"}],"resolve":{"axis":{"x":"independent","y":"independent"}},"layer":[
 {"mark":{"type":"line","interpolate":"cardinal-closed","strokeWidth":0.7},"encoding":{
  "x":{"field":"x","type":"quantitative","scale":{"domain":[0.021,0.176],"nice":false,"zero":false},"axis":{"values":[0.04,0.06,0.08,0.1,0.12,0.14],"labels":false,"title":null}},
  "y":{"field":"y","type":"quantitative","scale":{"domain":[0.1726,0.39],"nice":false,"zero":false},"axis":{"values":[0.2,0.24,0.28,0.32,0.36],"labels":false,"title":null}},
  "order":{"field":"i","type":"quantitative"},"detail":{"field":"k","type":"nominal"},
  "fill":{"field":"s","type":"nominal","scale":{"domain":["WMAP","WMAP+BAO"],"range":["#000080","#c4134b"]},"legend":{"orient":"none","legendX":241,"legendY":-28,"direction":"horizontal","title":null,"symbolType":"M-1.3,-0.5H1.3V0.5H-1.3Z","symbolSize":100,"labelFontSize":6,"labelFont":"DejaVu Sans","labelColor":"#222","strokeColor":"#cccccc","padding":2,"columnPadding":8,"labelOffset":5,"encode":{"symbols":{"update":{"fill":{"signal":"datum.value=='WMAP'?'#000080':'#dc143c'"},"fillOpacity":{"value":1},"opacity":{"value":1},"strokeWidth":{"value":0}}}}}},
  "fillOpacity":{"field":"l","type":"ordinal","scale":{"domain":["95","68"],"range":[0.2,1]},"legend":null},
  "stroke":{"field":"s","type":"nominal","scale":{"domain":["WMAP","WMAP+BAO"],"range":["#6767c9","#e06586"]},"legend":null},
  "strokeOpacity":{"field":"l","type":"ordinal","scale":{"domain":["95","68"],"range":[0.9,0]},"legend":null}}},
 {"mark":{"type":"line","opacity":0},"encoding":{
  "x":{"field":"x","type":"quantitative","axis":{"orient":"top","values":[0.04,0.06,0.08,0.1,0.12,0.14],"labels":false,"title":null}},
  "y":{"field":"y","type":"quantitative","axis":{"orient":"right","values":[0.2,0.24,0.28,0.32,0.36],"labels":false,"title":null}}}}]},
{"width":100,"height":88,"transform":[{"filter":"datum.p=='25'"}],"resolve":{"axis":{"x":"independent","y":"independent"}},"layer":[
 {"mark":{"type":"line","interpolate":"cardinal-closed","strokeWidth":0.7},"encoding":{
  "x":{"field":"x","type":"quantitative","scale":{"domain":[2.968,3.295],"nice":false,"zero":false},"axis":{"values":[3,3.05,3.1,3.15,3.2],"labels":false,"title":null}},
  "y":{"field":"y","type":"quantitative","scale":{"domain":[0.1726,0.39],"nice":false,"zero":false},"axis":{"values":[0.2,0.24,0.28,0.32,0.36],"labels":false,"title":null}},
  "order":{"field":"i","type":"quantitative"},"detail":{"field":"k","type":"nominal"},
  "fill":{"field":"s","type":"nominal","scale":{"domain":["WMAP","WMAP+BAO"],"range":["#000080","#c4134b"]},"legend":{"orient":"none","legendX":241,"legendY":-28,"direction":"horizontal","title":null,"symbolType":"M-1.3,-0.5H1.3V0.5H-1.3Z","symbolSize":100,"labelFontSize":6,"labelFont":"DejaVu Sans","labelColor":"#222","strokeColor":"#cccccc","padding":2,"columnPadding":8,"labelOffset":5,"encode":{"symbols":{"update":{"fill":{"signal":"datum.value=='WMAP'?'#000080':'#dc143c'"},"fillOpacity":{"value":1},"opacity":{"value":1},"strokeWidth":{"value":0}}}}}},
  "fillOpacity":{"field":"l","type":"ordinal","scale":{"domain":["95","68"],"range":[0.2,1]},"legend":null},
  "stroke":{"field":"s","type":"nominal","scale":{"domain":["WMAP","WMAP+BAO"],"range":["#6767c9","#e06586"]},"legend":null},
  "strokeOpacity":{"field":"l","type":"ordinal","scale":{"domain":["95","68"],"range":[0.9,0]},"legend":null}}},
 {"mark":{"type":"line","opacity":0},"encoding":{
  "x":{"field":"x","type":"quantitative","axis":{"orient":"top","values":[3,3.05,3.1,3.15,3.2],"labels":false,"title":null}},
  "y":{"field":"y","type":"quantitative","axis":{"orient":"right","values":[0.2,0.24,0.28,0.32,0.36],"labels":false,"title":null}}}}]},
{"width":100,"height":88,"transform":[{"filter":"datum.p=='26'"}],"resolve":{"axis":{"x":"independent","y":"independent"}},"layer":[
 {"mark":{"type":"line","interpolate":"cardinal-closed","strokeWidth":0.7},"encoding":{
  "x":{"field":"x","type":"quantitative","scale":{"domain":[0.9225,1.0395],"nice":false,"zero":false},"axis":{"values":[0.94,0.96,0.98,1,1.02],"labels":false,"title":null}},
  "y":{"field":"y","type":"quantitative","scale":{"domain":[0.1726,0.39],"nice":false,"zero":false},"axis":{"values":[0.2,0.24,0.28,0.32,0.36],"labels":false,"title":null}},
  "order":{"field":"i","type":"quantitative"},"detail":{"field":"k","type":"nominal"},
  "fill":{"field":"s","type":"nominal","scale":{"domain":["WMAP","WMAP+BAO"],"range":["#000080","#c4134b"]},"legend":{"orient":"none","legendX":241,"legendY":-28,"direction":"horizontal","title":null,"symbolType":"M-1.3,-0.5H1.3V0.5H-1.3Z","symbolSize":100,"labelFontSize":6,"labelFont":"DejaVu Sans","labelColor":"#222","strokeColor":"#cccccc","padding":2,"columnPadding":8,"labelOffset":5,"encode":{"symbols":{"update":{"fill":{"signal":"datum.value=='WMAP'?'#000080':'#dc143c'"},"fillOpacity":{"value":1},"opacity":{"value":1},"strokeWidth":{"value":0}}}}}},
  "fillOpacity":{"field":"l","type":"ordinal","scale":{"domain":["95","68"],"range":[0.2,1]},"legend":null},
  "stroke":{"field":"s","type":"nominal","scale":{"domain":["WMAP","WMAP+BAO"],"range":["#6767c9","#e06586"]},"legend":null},
  "strokeOpacity":{"field":"l","type":"ordinal","scale":{"domain":["95","68"],"range":[0.9,0]},"legend":null}}},
 {"mark":{"type":"line","opacity":0},"encoding":{
  "x":{"field":"x","type":"quantitative","axis":{"orient":"top","values":[0.94,0.96,0.98,1,1.02],"labels":false,"title":null}},
  "y":{"field":"y","type":"quantitative","axis":{"orient":"right","values":[0.2,0.24,0.28,0.32,0.36],"labels":false,"title":null}}}}]},
{"width":100,"height":88,"transform":[{"filter":"datum.p=='31'"}],"resolve":{"axis":{"x":"independent","y":"independent"}},"layer":[
 {"mark":{"type":"line","interpolate":"cardinal-closed","strokeWidth":0.7},"encoding":{
  "x":{"field":"x","type":"quantitative","scale":{"domain":[0.02025,0.02469],"nice":false,"zero":false},"axis":{"values":[0.0208,0.0216,0.0224,0.0232,0.024],"format":".4f","labelExpr":"datum.label=='0.0216'||datum.label=='0.0232'?'':datum.label","title":"Ωbh²"}},
  "y":{"field":"y","type":"quantitative","scale":{"domain":[0.7,0.891],"nice":false,"zero":false},"axis":{"values":[0.72,0.75,0.78,0.81,0.84,0.87],"format":".2f","title":"σ₈","minExtent":10,"maxExtent":10}},
  "order":{"field":"i","type":"quantitative"},"detail":{"field":"k","type":"nominal"},
  "fill":{"field":"s","type":"nominal","scale":{"domain":["WMAP","WMAP+BAO"],"range":["#000080","#c4134b"]},"legend":{"orient":"none","legendX":241,"legendY":-28,"direction":"horizontal","title":null,"symbolType":"M-1.3,-0.5H1.3V0.5H-1.3Z","symbolSize":100,"labelFontSize":6,"labelFont":"DejaVu Sans","labelColor":"#222","strokeColor":"#cccccc","padding":2,"columnPadding":8,"labelOffset":5,"encode":{"symbols":{"update":{"fill":{"signal":"datum.value=='WMAP'?'#000080':'#dc143c'"},"fillOpacity":{"value":1},"opacity":{"value":1},"strokeWidth":{"value":0}}}}}},
  "fillOpacity":{"field":"l","type":"ordinal","scale":{"domain":["95","68"],"range":[0.2,1]},"legend":null},
  "stroke":{"field":"s","type":"nominal","scale":{"domain":["WMAP","WMAP+BAO"],"range":["#6767c9","#e06586"]},"legend":null},
  "strokeOpacity":{"field":"l","type":"ordinal","scale":{"domain":["95","68"],"range":[0.9,0]},"legend":null}}},
 {"mark":{"type":"line","opacity":0},"encoding":{
  "x":{"field":"x","type":"quantitative","axis":{"orient":"top","values":[0.0208,0.0216,0.0224,0.0232,0.024],"labels":false,"title":null}},
  "y":{"field":"y","type":"quantitative","axis":{"orient":"right","values":[0.72,0.75,0.78,0.81,0.84,0.87],"labels":false,"title":null}}}}]},
{"width":100,"height":88,"transform":[{"filter":"datum.p=='32'"}],"resolve":{"axis":{"x":"independent","y":"independent"}},"layer":[
 {"mark":{"type":"line","interpolate":"cardinal-closed","strokeWidth":0.7},"encoding":{
  "x":{"field":"x","type":"quantitative","scale":{"domain":[0.0941,0.1316],"nice":false,"zero":false},"axis":{"values":[0.096,0.102,0.108,0.114,0.12,0.126],"format":".3f","labelExpr":"datum.label=='0.102'||datum.label=='0.114'||datum.label=='0.126'?datum.label:''","title":"Ωch²"}},
  "y":{"field":"y","type":"quantitative","scale":{"domain":[0.7,0.891],"nice":false,"zero":false},"axis":{"values":[0.72,0.75,0.78,0.81,0.84,0.87],"labels":false,"title":null}},
  "order":{"field":"i","type":"quantitative"},"detail":{"field":"k","type":"nominal"},
  "fill":{"field":"s","type":"nominal","scale":{"domain":["WMAP","WMAP+BAO"],"range":["#000080","#c4134b"]},"legend":{"orient":"none","legendX":241,"legendY":-28,"direction":"horizontal","title":null,"symbolType":"M-1.3,-0.5H1.3V0.5H-1.3Z","symbolSize":100,"labelFontSize":6,"labelFont":"DejaVu Sans","labelColor":"#222","strokeColor":"#cccccc","padding":2,"columnPadding":8,"labelOffset":5,"encode":{"symbols":{"update":{"fill":{"signal":"datum.value=='WMAP'?'#000080':'#dc143c'"},"fillOpacity":{"value":1},"opacity":{"value":1},"strokeWidth":{"value":0}}}}}},
  "fillOpacity":{"field":"l","type":"ordinal","scale":{"domain":["95","68"],"range":[0.2,1]},"legend":null},
  "stroke":{"field":"s","type":"nominal","scale":{"domain":["WMAP","WMAP+BAO"],"range":["#6767c9","#e06586"]},"legend":null},
  "strokeOpacity":{"field":"l","type":"ordinal","scale":{"domain":["95","68"],"range":[0.9,0]},"legend":null}}},
 {"mark":{"type":"line","opacity":0},"encoding":{
  "x":{"field":"x","type":"quantitative","axis":{"orient":"top","values":[0.096,0.102,0.108,0.114,0.12,0.126],"labels":false,"title":null}},
  "y":{"field":"y","type":"quantitative","axis":{"orient":"right","values":[0.72,0.75,0.78,0.81,0.84,0.87],"labels":false,"title":null}}}}]},
{"width":100,"height":88,"transform":[{"filter":"datum.p=='33'"}],"resolve":{"axis":{"x":"independent","y":"independent"}},"layer":[
 {"mark":{"type":"line","interpolate":"cardinal-closed","strokeWidth":0.7},"encoding":{
  "x":{"field":"x","type":"quantitative","scale":{"domain":[1.02954,1.05054],"nice":false,"zero":false},"axis":{"values":[1.032,1.036,1.04,1.044,1.048],"format":".3f","labelExpr":"datum.label=='1.036'||datum.label=='1.044'?'':datum.label","title":"100θMC"}},
  "y":{"field":"y","type":"quantitative","scale":{"domain":[0.7,0.891],"nice":false,"zero":false},"axis":{"values":[0.72,0.75,0.78,0.81,0.84,0.87],"labels":false,"title":null}},
  "order":{"field":"i","type":"quantitative"},"detail":{"field":"k","type":"nominal"},
  "fill":{"field":"s","type":"nominal","scale":{"domain":["WMAP","WMAP+BAO"],"range":["#000080","#c4134b"]},"legend":{"orient":"none","legendX":241,"legendY":-28,"direction":"horizontal","title":null,"symbolType":"M-1.3,-0.5H1.3V0.5H-1.3Z","symbolSize":100,"labelFontSize":6,"labelFont":"DejaVu Sans","labelColor":"#222","strokeColor":"#cccccc","padding":2,"columnPadding":8,"labelOffset":5,"encode":{"symbols":{"update":{"fill":{"signal":"datum.value=='WMAP'?'#000080':'#dc143c'"},"fillOpacity":{"value":1},"opacity":{"value":1},"strokeWidth":{"value":0}}}}}},
  "fillOpacity":{"field":"l","type":"ordinal","scale":{"domain":["95","68"],"range":[0.2,1]},"legend":null},
  "stroke":{"field":"s","type":"nominal","scale":{"domain":["WMAP","WMAP+BAO"],"range":["#6767c9","#e06586"]},"legend":null},
  "strokeOpacity":{"field":"l","type":"ordinal","scale":{"domain":["95","68"],"range":[0.9,0]},"legend":null}}},
 {"mark":{"type":"line","opacity":0},"encoding":{
  "x":{"field":"x","type":"quantitative","axis":{"orient":"top","values":[1.032,1.036,1.04,1.044,1.048],"labels":false,"title":null}},
  "y":{"field":"y","type":"quantitative","axis":{"orient":"right","values":[0.72,0.75,0.78,0.81,0.84,0.87],"labels":false,"title":null}}}}]},
{"width":100,"height":88,"transform":[{"filter":"datum.p=='34'"}],"resolve":{"axis":{"x":"independent","y":"independent"}},"layer":[
 {"mark":{"type":"line","interpolate":"cardinal-closed","strokeWidth":0.7},"encoding":{
  "x":{"field":"x","type":"quantitative","scale":{"domain":[0.021,0.176],"nice":false,"zero":false},"axis":{"values":[0.04,0.06,0.08,0.1,0.12,0.14],"format":".2f","title":"τ"}},
  "y":{"field":"y","type":"quantitative","scale":{"domain":[0.7,0.891],"nice":false,"zero":false},"axis":{"values":[0.72,0.75,0.78,0.81,0.84,0.87],"labels":false,"title":null}},
  "order":{"field":"i","type":"quantitative"},"detail":{"field":"k","type":"nominal"},
  "fill":{"field":"s","type":"nominal","scale":{"domain":["WMAP","WMAP+BAO"],"range":["#000080","#c4134b"]},"legend":{"orient":"none","legendX":241,"legendY":-28,"direction":"horizontal","title":null,"symbolType":"M-1.3,-0.5H1.3V0.5H-1.3Z","symbolSize":100,"labelFontSize":6,"labelFont":"DejaVu Sans","labelColor":"#222","strokeColor":"#cccccc","padding":2,"columnPadding":8,"labelOffset":5,"encode":{"symbols":{"update":{"fill":{"signal":"datum.value=='WMAP'?'#000080':'#dc143c'"},"fillOpacity":{"value":1},"opacity":{"value":1},"strokeWidth":{"value":0}}}}}},
  "fillOpacity":{"field":"l","type":"ordinal","scale":{"domain":["95","68"],"range":[0.2,1]},"legend":null},
  "stroke":{"field":"s","type":"nominal","scale":{"domain":["WMAP","WMAP+BAO"],"range":["#6767c9","#e06586"]},"legend":null},
  "strokeOpacity":{"field":"l","type":"ordinal","scale":{"domain":["95","68"],"range":[0.9,0]},"legend":null}}},
 {"mark":{"type":"line","opacity":0},"encoding":{
  "x":{"field":"x","type":"quantitative","axis":{"orient":"top","values":[0.04,0.06,0.08,0.1,0.12,0.14],"labels":false,"title":null}},
  "y":{"field":"y","type":"quantitative","axis":{"orient":"right","values":[0.72,0.75,0.78,0.81,0.84,0.87],"labels":false,"title":null}}}}]},
{"width":100,"height":88,"transform":[{"filter":"datum.p=='35'"}],"resolve":{"axis":{"x":"independent","y":"independent"}},"layer":[
 {"mark":{"type":"line","interpolate":"cardinal-closed","strokeWidth":0.7},"encoding":{
  "x":{"field":"x","type":"quantitative","scale":{"domain":[2.968,3.295],"nice":false,"zero":false},"axis":{"values":[3,3.05,3.1,3.15,3.2],"format":".2f","title":"ln(10¹⁰Aₛ)"}},
  "y":{"field":"y","type":"quantitative","scale":{"domain":[0.7,0.891],"nice":false,"zero":false},"axis":{"values":[0.72,0.75,0.78,0.81,0.84,0.87],"labels":false,"title":null}},
  "order":{"field":"i","type":"quantitative"},"detail":{"field":"k","type":"nominal"},
  "fill":{"field":"s","type":"nominal","scale":{"domain":["WMAP","WMAP+BAO"],"range":["#000080","#c4134b"]},"legend":{"orient":"none","legendX":241,"legendY":-28,"direction":"horizontal","title":null,"symbolType":"M-1.3,-0.5H1.3V0.5H-1.3Z","symbolSize":100,"labelFontSize":6,"labelFont":"DejaVu Sans","labelColor":"#222","strokeColor":"#cccccc","padding":2,"columnPadding":8,"labelOffset":5,"encode":{"symbols":{"update":{"fill":{"signal":"datum.value=='WMAP'?'#000080':'#dc143c'"},"fillOpacity":{"value":1},"opacity":{"value":1},"strokeWidth":{"value":0}}}}}},
  "fillOpacity":{"field":"l","type":"ordinal","scale":{"domain":["95","68"],"range":[0.2,1]},"legend":null},
  "stroke":{"field":"s","type":"nominal","scale":{"domain":["WMAP","WMAP+BAO"],"range":["#6767c9","#e06586"]},"legend":null},
  "strokeOpacity":{"field":"l","type":"ordinal","scale":{"domain":["95","68"],"range":[0.9,0]},"legend":null}}},
 {"mark":{"type":"line","opacity":0},"encoding":{
  "x":{"field":"x","type":"quantitative","axis":{"orient":"top","values":[3,3.05,3.1,3.15,3.2],"labels":false,"title":null}},
  "y":{"field":"y","type":"quantitative","axis":{"orient":"right","values":[0.72,0.75,0.78,0.81,0.84,0.87],"labels":false,"title":null}}}}]},
{"width":100,"height":88,"transform":[{"filter":"datum.p=='36'"}],"resolve":{"axis":{"x":"independent","y":"independent"}},"layer":[
 {"mark":{"type":"line","interpolate":"cardinal-closed","strokeWidth":0.7},"encoding":{
  "x":{"field":"x","type":"quantitative","scale":{"domain":[0.9225,1.0395],"nice":false,"zero":false},"axis":{"values":[0.94,0.96,0.98,1,1.02],"format":".2f","title":"nₛ"}},
  "y":{"field":"y","type":"quantitative","scale":{"domain":[0.7,0.891],"nice":false,"zero":false},"axis":{"values":[0.72,0.75,0.78,0.81,0.84,0.87],"labels":false,"title":null}},
  "order":{"field":"i","type":"quantitative"},"detail":{"field":"k","type":"nominal"},
  "fill":{"field":"s","type":"nominal","scale":{"domain":["WMAP","WMAP+BAO"],"range":["#000080","#c4134b"]},"legend":{"orient":"none","legendX":241,"legendY":-28,"direction":"horizontal","title":null,"symbolType":"M-1.3,-0.5H1.3V0.5H-1.3Z","symbolSize":100,"labelFontSize":6,"labelFont":"DejaVu Sans","labelColor":"#222","strokeColor":"#cccccc","padding":2,"columnPadding":8,"labelOffset":5,"encode":{"symbols":{"update":{"fill":{"signal":"datum.value=='WMAP'?'#000080':'#dc143c'"},"fillOpacity":{"value":1},"opacity":{"value":1},"strokeWidth":{"value":0}}}}}},
  "fillOpacity":{"field":"l","type":"ordinal","scale":{"domain":["95","68"],"range":[0.2,1]},"legend":null},
  "stroke":{"field":"s","type":"nominal","scale":{"domain":["WMAP","WMAP+BAO"],"range":["#6767c9","#e06586"]},"legend":null},
  "strokeOpacity":{"field":"l","type":"ordinal","scale":{"domain":["95","68"],"range":[0.9,0]},"legend":null}}},
 {"mark":{"type":"line","opacity":0},"encoding":{
  "x":{"field":"x","type":"quantitative","axis":{"orient":"top","values":[0.94,0.96,0.98,1,1.02],"labels":false,"title":null}},
  "y":{"field":"y","type":"quantitative","axis":{"orient":"right","values":[0.72,0.75,0.78,0.81,0.84,0.87],"labels":false,"title":null}}}}]}
],
"config":{
 "view":{"stroke":"#555555","strokeWidth":0.9},
 "axis":{"domain":false,"grid":false,"tickSize":-2.5,"tickColor":"#333333","tickWidth":0.6,"labelFontSize":4.4,"labelFont":"DejaVu Sans","labelColor":"#333333","titleFont":"DejaVu Sans","titleFontSize":6.2,"titleFontWeight":"normal","titleColor":"#111111","minExtent":0,"labelPadding":1.5,"titlePadding":1.5,"labelFlush":false,"labelOverlap":false}
}
}
